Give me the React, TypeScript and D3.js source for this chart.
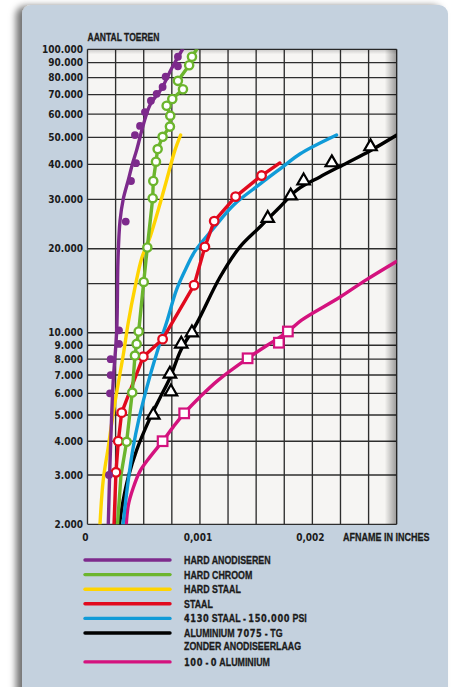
import React from 'react';
import * as d3 from 'd3';

const W = 454;
const H = 687;

// ---- axes ----
const yGridValues = [2000, 3000, 4000, 5000, 6000, 7000, 8000, 9000, 10000, 15000, 20000, 30000, 40000, 50000, 60000, 70000, 80000, 90000, 100000];
const yTickLabels = [2000, 3000, 4000, 5000, 6000, 7000, 8000, 9000, 10000, 20000, 30000, 40000, 50000, 60000, 70000, 80000, 90000, 100000];
const xTickLabels = [0, 0.001, 0.002];
const xGridValues = d3.range(0, 0.00276, 0.00025);

// ---- series: [afname (inches), aantal toeren] ----
const anodiserenDots = [
  [0.000191, 3000], [0.0002, 6000], [0.000206, 7000], [0.000206, 8000], [0.00028, 9100], [0.00028, 10200],
  [0.00034, 25000], [0.000387, 34900], [0.000431, 40400], [0.000422, 50900], [0.000467, 54700], [0.000511, 61000],
  [0.000564, 66700], [0.000615, 70400], [0.000668, 74300], [0.000695, 80600], [0.000804, 87500], [0.000804, 94300],
];
const anodiserenCurve = [
  [0.000185, 2000], [0.0002, 3320], [0.000215, 5000], [0.000229, 6700], [0.00026, 10200], [0.000271, 18200],
  [0.000289, 25100], [0.000318, 30100], [0.000363, 35200], [0.000402, 40500], [0.000437, 45000], [0.000496, 55100],
  [0.000556, 64500], [0.00066, 73500], [0.000749, 86100], [0.000845, 100000],
];
const chroomMarks = [
  [0.000348, 3980], [0.000398, 6040], [0.000422, 8250], [0.000437, 9100], [0.000455, 10100], [0.0005, 15200],
  [0.000532, 20200], [0.00058, 30300], [0.000585, 34900], [0.000609, 40900], [0.000624, 45400], [0.000668, 50200],
  [0.000733, 54400], [0.000736, 59300], [0.000704, 64100], [0.000754, 67600], [0.000849, 73000], [0.000804, 78000],
  [0.000904, 88200], [0.000929, 94300],
];
const chroomEnds = [[0.000267, 2000], [0.000298, 3000], [0.000971, 100000]];
const hardStaalCurve = [
  [0.000111, 2000], [0.00014, 2880], [0.000185, 3810], [0.000229, 5080], [0.000274, 6550], [0.000318, 8290],
  [0.000363, 10900], [0.000422, 14500], [0.000482, 18500], [0.000556, 22000], [0.000629, 27500], [0.000704, 35200],
  [0.000778, 45000], [0.000828, 50900],
];
const staalMarks = [
  [0.000253, 3070], [0.000274, 4000], [0.000304, 5100], [0.000496, 8170], [0.000668, 9470], [0.000948, 14800],
  [0.001044, 20300], [0.001127, 25100], [0.001317, 30700], [0.001548, 36500],
];
const staalEnds = [[0.000236, 2000], [0.001711, 40500]];
const staal4130Curve = [
  [0.000316, 2000], [0.000363, 2880], [0.000407, 3810], [0.000455, 4790], [0.000556, 6950], [0.000644, 9170],
  [0.000704, 10900], [0.000793, 14300], [0.000882, 17200], [0.000956, 19600], [0.001118, 23600],
  [0.001302, 28700], [0.001533, 34000], [0.00174, 39300], [0.001889, 43600], [0.002215, 50900],
];
const alu7075Curve = [
  [0.000284, 2000], [0.000318, 2440], [0.000363, 2950], [0.000437, 3710], [0.000556, 4870], [0.000644, 5770],
  [0.000733, 6830], [0.000831, 8650], [0.000971, 10800], [0.001178, 15800], [0.001356, 20300], [0.001533, 23900],
  [0.001711, 28200], [0.001862, 32400], [0.002067, 36100], [0.002307, 40500], [0.002511, 44700], [0.002751, 50900],
];
const alu7075Marks = [
  [0.000585, 5000], [0.000742, 6080], [0.000733, 7060], [0.000834, 9090], [0.000929, 10000], [0.001603, 25700],
  [0.001807, 30900], [0.001922, 35000], [0.002173, 40600], [0.002517, 46300],
];
const alu100Curve = [
  [0.000345, 2000], [0.000363, 2340], [0.000407, 2700], [0.000467, 3100], [0.000556, 3500], [0.000668, 4000],
  [0.000763, 4520], [0.00086, 5070], [0.001, 5820], [0.001163, 6710], [0.001424, 8060], [0.001782, 10100],
  [0.001904, 11100], [0.002244, 13400], [0.002482, 15500], [0.002748, 18000],
];
const alu100Marks = [[0.000668, 4000], [0.00086, 5070], [0.001424, 8060], [0.001702, 9190], [0.001782, 10100]];

const yAxisTitle = 'AANTAL TOEREN';
const xAxisTitle = 'AFNAME IN INCHES';
const legendNames = [
  ['HARD ANODISEREN'],
  ['HARD CHROOM'],
  ['HARD STAAL'],
  ['STAAL'],
  ['4130 STAAL - 150.000 PSI'],
  ['ALUMINIUM 7075 - TG', 'ZONDER ANODISEERLAAG'],
  ['100 - 0 ALUMINIUM'],
];
const legendColors = ['#7d2a8c', '#6cb52d', '#ffd400', '#e10a1e', '#109bd8', '#000000', '#d4127e'];

const NUM_FONT = "'DejaVu Sans Condensed', 'DejaVu Sans', sans-serif";
const INK = '#1b1b1b';
const NARROW = 0.82;

// Narrow bold text: Liberation Sans squeezed horizontally; digits in DejaVu Sans (wide figures)
function NarrowText({ x, y, text, size = 10.8 }: any) {
  const parts = text.split(/([0-9][0-9.,]*)/).filter((s: string) => s.length);
  return (
    <text transform={`translate(${x},${y}) scale(${NARROW},1)`} fontWeight="bold" fill={INK} stroke={INK} strokeWidth={0.3}>
      {parts.map((p: string, i: number) =>
        /^[0-9]/.test(p) ? (
          <tspan key={i} fontFamily="'DejaVu Sans', sans-serif" fontSize={size * 0.93} letterSpacing={0.75}>{p}</tspan>
        ) : (
          <tspan key={i} fontFamily="'Liberation Sans', Arial, sans-serif" fontSize={size}>{p}</tspan>
        )
      )}
    </text>
  );
}

const byY = (a: number[][]) => [...a].sort((p, q) => p[1] - q[1]);

export default function App() {
  const x = d3.scaleLinear().domain([0, 0.00275]).range([87.5, 396.7]);
  const y = d3.scaleLog()
    .domain([2000, 3000, 5000, 10000, 20000, 50000, 100000])
    .range([524.3, 475, 415, 332.7, 248.7, 137.3, 49.3]);
  const x0 = x(0), x1 = x(0.00275), yTop = y(100000), yBot = y(2000);

  const smooth = d3.line<number[]>().x(d => x(d[0])).y(d => y(d[1])).curve(d3.curveCatmullRom.alpha(0.5));
  const poly = d3.line<number[]>().x(d => x(d[0])).y(d => y(d[1]));
  const tri = d3.symbol().type(d3.symbolTriangle).size(68)();
  const fmtY = (v: number) => d3.format(',')(v).replace(/,/g, '.');
  const fmtX = (v: number) => (v === 0 ? '0' : d3.format('.3f')(v).replace('.', ','));

  const lineW = 3.4;
  const chroomLine = byY([...chroomMarks, ...chroomEnds]);
  const staalLine = byY([...staalMarks, ...staalEnds]);

  let rowY = 560;
  const legendRows = legendNames.map((lines, i) => {
    const r = { lines, color: legendColors[i], y: rowY };
    rowY += 14.6 * lines.length - (lines.length > 1 ? 0.3 : 0);
    return r;
  });

  return (
    <svg width={W} height={H} style={{ position: 'absolute', left: 0, top: 0 }} xmlns="http://www.w3.org/2000/svg">
      <defs>
        <filter id="pshadow" x="-10%" y="-10%" width="120%" height="120%">
          <feDropShadow dx={-6} dy={1} stdDeviation={3.5} floodColor="#000" floodOpacity={0.55} />
        </filter>
        <linearGradient id="rshade" x1="0" x2="1" y1="0" y2="0">
          <stop offset="0" stopColor="#000" stopOpacity={0} />
          <stop offset="1" stopColor="#000" stopOpacity={0.38} />
        </linearGradient>
        <linearGradient id="tshade" x1="0" x2="0" y1="0" y2="1">
          <stop offset="0" stopColor="#000" stopOpacity={0.18} />
          <stop offset="1" stopColor="#000" stopOpacity={0} />
        </linearGradient>
        <clipPath id="plotclip">
          <rect x={x0} y={yTop} width={x1 - x0} height={yBot - yTop} />
        </clipPath>
      </defs>

      <rect x={0} y={0} width={W} height={H} fill="#ffffff" />
      <rect x={22} y={5} width={426} height={720} rx={9} fill="#c4d1de" filter="url(#pshadow)" />

      {/* plot sheet */}
      <rect x={x0} y={yTop} width={x1 - x0} height={yBot - yTop} fill="#f6f5f3" />

      {/* grid */}
      <g>
        {xGridValues.map((v, i) => (
          <line key={'vx' + i} x1={x(v)} x2={x(v)} y1={yTop} y2={yBot} stroke="#2e2e2e" strokeWidth={1.35} />
        ))}
        {yGridValues.map((v, i) => (
          <line key={'hy' + i} x1={x0} x2={x1} y1={y(v)} y2={y(v)} stroke="#2e2e2e" strokeWidth={1.35} />
        ))}
      </g>
      <rect x={x1 - 12} y={yTop} width={12} height={yBot - yTop} fill="url(#rshade)" />
      <rect x={x0} y={yTop} width={x1 - x0} height={5} fill="url(#tshade)" />

      {/* curves */}
      <g clipPath="url(#plotclip)" fill="none" strokeLinejoin="round" strokeLinecap="round">
        <path d={smooth(alu100Curve) || ''} stroke={legendColors[6]} strokeWidth={lineW} />
        <path d={smooth(alu7075Curve) || ''} stroke={legendColors[5]} strokeWidth={lineW} />
        <path d={smooth(staal4130Curve) || ''} stroke={legendColors[4]} strokeWidth={lineW} />
        <path d={poly(staalLine) || ''} stroke={legendColors[3]} strokeWidth={lineW} />
        <path d={smooth(hardStaalCurve) || ''} stroke={legendColors[2]} strokeWidth={lineW} />
        <path d={poly(chroomLine) || ''} stroke={legendColors[1]} strokeWidth={lineW} />
        <path d={smooth(anodiserenCurve) || ''} stroke={legendColors[0]} strokeWidth={lineW} />
      </g>

      {/* markers */}
      <g clipPath="url(#plotclip)">
        {alu100Marks.map((d, i) => (
          <rect key={'m' + i} x={x(d[0]) - 4.8} y={y(d[1]) - 4.8} width={9.6} height={9.6} fill="#fff" stroke={legendColors[6]} strokeWidth={2.2} />
        ))}
        {alu7075Marks.map((d, i) => (
          <path key={'t' + i} d={tri || ''} transform={`translate(${x(d[0])},${y(d[1])})`} fill="#fff" stroke="#000" strokeWidth={2.2} strokeLinejoin="miter" />
        ))}
        {staalMarks.map((d, i) => (
          <circle key={'r' + i} cx={x(d[0])} cy={y(d[1])} r={4.3} fill="#fff" stroke={legendColors[3]} strokeWidth={2.3} />
        ))}
        {chroomMarks.map((d, i) => (
          <circle key={'g' + i} cx={x(d[0])} cy={y(d[1])} r={4.1} fill="#fff" stroke={legendColors[1]} strokeWidth={2.4} />
        ))}
        {anodiserenDots.map((d, i) => (
          <circle key={'p' + i} cx={x(d[0])} cy={y(d[1])} r={3.9} fill={legendColors[0]} />
        ))}
      </g>

      {/* y axis */}
      <NarrowText x={x0} y={40.7} text={yAxisTitle} size={10.4} />
      {yTickLabels.map((v, i) => (
        <text key={'yl' + i} x={83} y={y(v) + 3.7} textAnchor="end" fontFamily={NUM_FONT} fontWeight="bold" fontSize={10} fill={INK} style={{ fontStretch: 'condensed' }}>
          {fmtY(v)}
        </text>
      ))}

      {/* x axis */}
      {xTickLabels.map((v, i) => (
        <text key={'xl' + i} x={x(v) - 2} y={540.7} textAnchor="middle" fontFamily={NUM_FONT} fontWeight="bold" fontSize={10} fill={INK} style={{ fontStretch: 'condensed' }}>
          {fmtX(v)}
        </text>
      ))}
      <NarrowText x={343} y={540.7} text={xAxisTitle} size={11} />

      {/* legend */}
      {legendRows.map((r, i) => (
        <g key={'lg' + i}>
          <line x1={85} x2={170} y1={r.y} y2={r.y} stroke={r.color} strokeWidth={3.4} strokeLinecap="round" />
          {r.lines.map((t, j) => (
            <NarrowText key={j} x={184} y={r.y + 3.9 + j * 13.3} text={t} size={10.8} />
          ))}
        </g>
      ))}
    </svg>
  );
}
